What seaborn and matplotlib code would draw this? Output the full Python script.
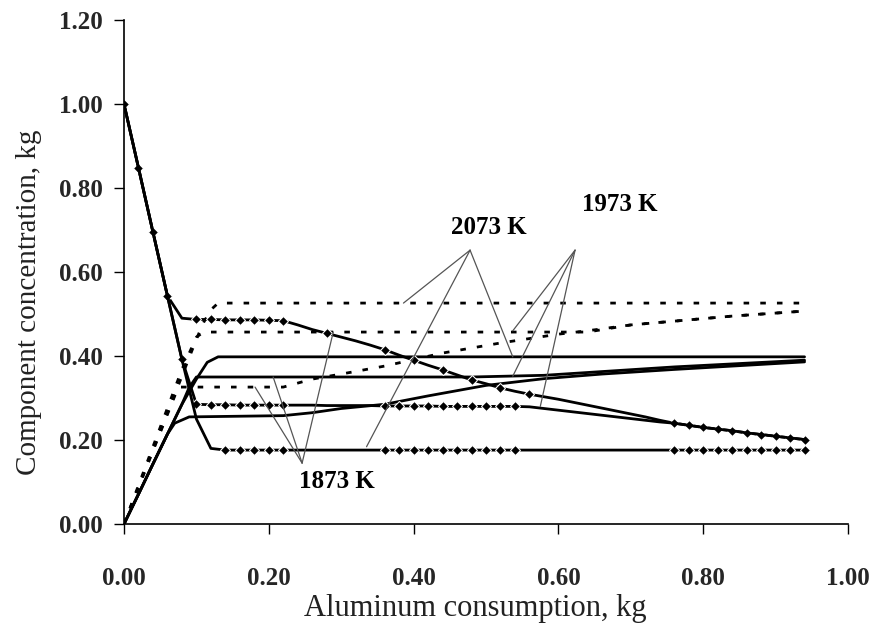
import matplotlib
matplotlib.use("Agg")
import matplotlib.pyplot as plt
import seaborn as sns

# ---------------- data ----------------
x_grid = [0.00, 0.02, 0.04, 0.06, 0.08, 0.10, 0.12, 0.14, 0.16, 0.18,
          0.20, 0.22, 0.24, 0.26, 0.28, 0.30, 0.32, 0.34, 0.36, 0.38,
          0.40, 0.42, 0.44, 0.46, 0.48, 0.50, 0.52, 0.54, 0.56, 0.58,
          0.60, 0.62, 0.64, 0.66, 0.68, 0.70, 0.72, 0.74, 0.76, 0.78,
          0.80, 0.82, 0.84, 0.86, 0.88, 0.90, 0.92, 0.94]

m1_y = [1.000, 0.848, 0.695, 0.543, 0.490, 0.487, 0.487, 0.486, 0.486, 0.486,
        0.485, 0.484, 0.474, 0.463, 0.454, 0.445, 0.436, 0.426, 0.415, 0.402,
        0.390, 0.378, 0.367, 0.355, 0.343, 0.334, 0.324, 0.316, 0.309, 0.303,
        0.297, 0.290, 0.283, 0.276, 0.269, 0.262, 0.255, 0.247, 0.240, 0.235,
        0.230, 0.226, 0.222, 0.217, 0.213, 0.209, 0.205, 0.201]

m2_y = [1.000, 0.848, 0.695, 0.543, 0.392, 0.285, 0.284, 0.284, 0.283, 0.283,
        0.283, 0.283, 0.283, 0.283, 0.282, 0.282, 0.282, 0.282, 0.281, 0.281,
        0.281, 0.281, 0.280, 0.280, 0.280, 0.280, 0.280, 0.280, 0.279, 0.275,
        0.271, 0.267, 0.263, 0.259, 0.255, 0.251, 0.247, 0.243, 0.240, 0.235,
        0.230, 0.226, 0.222, 0.217, 0.213, 0.209, 0.205, 0.201]

m3_y = [1.000, 0.848, 0.695, 0.543, 0.392, 0.250, 0.180, 0.176, 0.176, 0.176,
        0.176, 0.176, 0.176, 0.176, 0.176, 0.176, 0.176, 0.176, 0.176, 0.176,
        0.176, 0.176, 0.176, 0.176, 0.176, 0.176, 0.176, 0.176, 0.176, 0.176,
        0.176, 0.176, 0.176, 0.176, 0.176, 0.176, 0.176, 0.176, 0.176, 0.176,
        0.176, 0.176, 0.176, 0.176, 0.176, 0.176, 0.176, 0.176]

m1_marks = [0, 1, 2, 3, 5, 6, 7, 8, 9, 10, 11, 14, 18, 20, 22, 24, 26, 28,
            38, 39, 40, 41, 42, 43, 44, 45, 46, 47]
m2_marks = [4, 5, 6, 7, 8, 9, 10, 11, 18, 19, 20, 21, 22, 23, 24, 25, 26, 27]
m3_marks = [7, 8, 9, 10, 11, 18, 19, 20, 21, 22, 23, 24, 25, 26, 27,
            38, 39, 40, 41, 42, 43, 44, 45, 46, 47]

d1_x = [0.00, 0.02, 0.04, 0.06, 0.08, 0.10, 0.11, 0.12, 0.13, 0.94]
d1_y = [0.000, 0.088, 0.176, 0.264, 0.352, 0.440, 0.480, 0.510, 0.526, 0.526]
d2_x = [0.00, 0.02, 0.04, 0.06, 0.08, 0.10, 0.11, 0.64, 0.70, 0.76, 0.84, 0.94]
d2_y = [0.000, 0.092, 0.184, 0.276, 0.368, 0.445, 0.457, 0.457, 0.474, 0.483, 0.495, 0.507]
d3_x = [0.00, 0.02, 0.04, 0.06, 0.075, 0.22, 0.26, 0.30, 0.36, 0.44, 0.52, 0.60,
        0.64, 0.70, 0.76, 0.84, 0.94]
d3_y = [0.000, 0.087, 0.174, 0.261, 0.326, 0.326, 0.345, 0.357, 0.376, 0.407, 0.431,
        0.452, 0.460, 0.474, 0.483, 0.495, 0.507]

s1_x = [0.00, 0.02, 0.04, 0.06, 0.08, 0.10, 0.115, 0.13, 0.94]
s1_y = [0.000, 0.071, 0.143, 0.214, 0.285, 0.345, 0.385, 0.398, 0.398]
s2_x = [0.00, 0.02, 0.04, 0.06, 0.08, 0.09, 0.10, 0.48, 0.58, 0.76, 0.94]
s2_y = [0.000, 0.071, 0.143, 0.214, 0.285, 0.325, 0.350, 0.350, 0.354, 0.374, 0.390]
s3_x = [0.00, 0.02, 0.04, 0.06, 0.07, 0.09, 0.22, 0.26, 0.30, 0.36, 0.42, 0.50,
        0.58, 0.66, 0.76, 0.86, 0.94]
s3_y = [0.000, 0.071, 0.143, 0.214, 0.240, 0.255, 0.258, 0.265, 0.275, 0.285, 0.305,
        0.330, 0.346, 0.357, 0.368, 0.378, 0.386]

labels = ["2073 K", "1973 K", "1873 K"]
label_pos = [(0.504, 0.705), (0.685, 0.760), (0.294, 0.100)]
apex = [(0.478, 0.652), (0.623, 0.652), (0.246, 0.145)]
targets = [[(0.386, 0.526), (0.335, 0.184), (0.537, 0.398)],
           [(0.537, 0.460), (0.537, 0.352), (0.575, 0.280)],
           [(0.181, 0.326), (0.206, 0.350), (0.289, 0.457)]]

x_ticks = [0.0, 0.2, 0.4, 0.6, 0.8, 1.0]
y_ticks = [0.0, 0.2, 0.4, 0.6, 0.8, 1.0, 1.2]

# ---------------- style ----------------
sns.set_theme(style="white")
plt.rcParams["font.family"] = ["Liberation Serif", "DejaVu Serif"]

fig = plt.figure(figsize=(8.78, 6.28), dpi=100)
ax = fig.add_axes([124 / 878, 104 / 628, 724 / 878, 504 / 628])

dash = (0, (2, 4))
for xs, ys in [(d1_x, d1_y), (d2_x, d2_y), (d3_x, d3_y)]:
    sns.lineplot(x=xs, y=ys, ax=ax, color="black", linewidth=2.0,
                 linestyle=dash, sort=False)

for xs, ys in [(s1_x, s1_y), (s2_x, s2_y), (s3_x, s3_y)]:
    sns.lineplot(x=xs, y=ys, ax=ax, color="black", linewidth=2.0, sort=False)

for ys, mk in [(m1_y, m1_marks), (m2_y, m2_marks), (m3_y, m3_marks)]:
    sns.lineplot(x=x_grid, y=ys, ax=ax, color="black", linewidth=2.0,
                 marker="D", markersize=5, markevery=mk, sort=False)

for lab, pos, ap, tg in zip(labels, label_pos, apex, targets):
    for (tx, ty) in tg:
        ax.plot([ap[0], tx], [ap[1], ty], color="#555555", linewidth=0.9)
    ax.text(pos[0], pos[1], lab, ha="center", va="center",
            fontsize=18, fontweight="bold", color="black")

ax.set_xlim(0, 1.0)
ax.set_ylim(0, 1.2)
ax.set_xticks(x_ticks)
ax.set_yticks(y_ticks)
ax.set_xticklabels([f"{v:.2f}" for v in x_ticks], fontsize=18, fontweight="bold")
ax.set_yticklabels([f"{v:.2f}" for v in y_ticks], fontsize=18, fontweight="bold")
ax.tick_params(axis="both", direction="out", length=7, width=1.0, color="black",
               bottom=True, left=True)
ax.tick_params(axis="x", pad=24)
ax.tick_params(axis="y", pad=8)

for side in ["top", "right"]:
    ax.spines[side].set_visible(False)
for side in ["left", "bottom"]:
    ax.spines[side].set_color("black")
    ax.spines[side].set_linewidth(1.2)

ax.set_xlabel("Aluminum consumption, kg", fontsize=22, color="#222222")
ax.set_ylabel("Component concentration, kg", fontsize=21, color="#222222")
ax.xaxis.set_label_coords(0.485, -0.138)
ax.yaxis.set_label_coords(-0.113, 0.44)
ax.grid(False)

fig.savefig("out.png", dpi=100, facecolor="white")
